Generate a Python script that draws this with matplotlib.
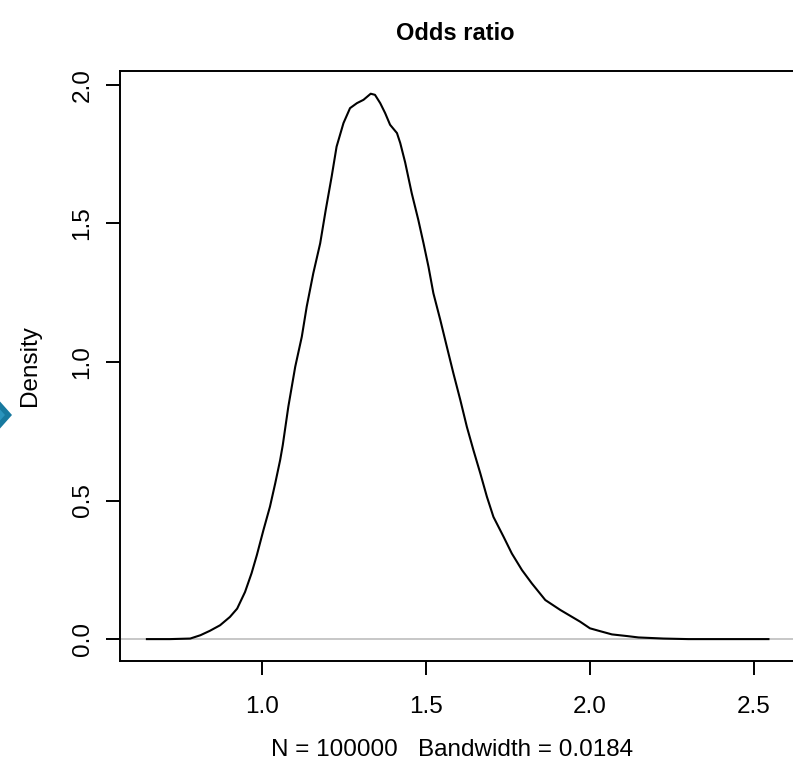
import matplotlib
matplotlib.use("Agg")
import matplotlib.pyplot as plt
from matplotlib.patches import Polygon

odds_ratio = [0.650, 0.720, 0.782, 0.813, 0.842, 0.873, 0.903, 0.925, 0.949, 0.969,
              0.985, 1.005, 1.025, 1.041, 1.056, 1.064, 1.081, 1.102, 1.122, 1.137,
              1.157, 1.178, 1.195, 1.213, 1.228, 1.249, 1.269, 1.290, 1.310, 1.332,
              1.345, 1.361, 1.376, 1.391, 1.412, 1.422, 1.437, 1.457, 1.477, 1.493,
              1.508, 1.523, 1.544, 1.564, 1.584, 1.605, 1.625, 1.645, 1.666, 1.686,
              1.706, 1.737, 1.762, 1.793, 1.823, 1.864, 1.910, 1.970, 2.000, 2.030,
              2.067, 2.113, 2.148, 2.224, 2.300, 2.544]
density = [0.000, 0.000, 0.002, 0.014, 0.030, 0.050, 0.080, 0.110, 0.170, 0.238,
           0.303, 0.393, 0.478, 0.562, 0.646, 0.700, 0.839, 0.983, 1.091, 1.200,
           1.320, 1.428, 1.549, 1.669, 1.777, 1.862, 1.916, 1.934, 1.946, 1.968,
           1.964, 1.934, 1.898, 1.856, 1.826, 1.790, 1.720, 1.609, 1.513, 1.428,
           1.344, 1.248, 1.152, 1.055, 0.959, 0.863, 0.766, 0.682, 0.598, 0.514,
           0.441, 0.369, 0.309, 0.249, 0.201, 0.141, 0.105, 0.063, 0.039, 0.029,
           0.017, 0.011, 0.006, 0.002, 0.000, 0.000]
x_ticks = [1.0, 1.5, 2.0, 2.5]
y_ticks = [0.0, 0.5, 1.0, 1.5, 2.0]

plt.rcParams['font.family'] = ['Liberation Sans', 'DejaVu Sans']

W, H = 793, 773
fig = plt.figure(figsize=(W / 100, H / 100), dpi=100)
ax = fig.add_axes([120 / W, 112 / H, 676 / W, 590 / H])

ax.axhline(0, color='#bebebe', lw=1.2, zorder=1)
ax.plot(odds_ratio, density, color='black', lw=1.5, zorder=2)

ax.set_xlim(0.568, 2.628)
ax.set_ylim(-0.079, 2.05)
ax.set_xticks(x_ticks)
ax.set_xticklabels([f"{v:.1f}" for v in x_ticks])
ax.set_yticks(y_ticks)
ax.set_yticklabels([f"{v:.1f}" for v in y_ticks], rotation=90, va='center')
ax.tick_params(direction='out', length=10, width=1.4, labelsize=17.5)
ax.tick_params(axis='x', pad=15)
ax.tick_params(axis='y', pad=9)
for s in ax.spines.values():
    s.set_linewidth(1.4)

fig.text(455 / W, 1 - 33 / H, "Odds ratio", ha='center', va='center',
         fontsize=17, fontweight='bold')
fig.text(452 / W, 1 - 750 / H, "N = 100000   Bandwidth = 0.0184", ha='center',
         va='center', fontsize=17.5)
fig.text(30 / W, 1 - 366 / H, "Density", ha='center', va='center',
         rotation=90, fontsize=17.5)

# partial diamond marker at the left edge
cy = H - 415
outer = Polygon([(-4, cy + 18), (12, cy), (-4, cy - 18), (-20, cy)],
                closed=True, facecolor='#17799f', edgecolor='none',
                transform=None)
inner = Polygon([(-4, cy + 10), (5, cy), (-4, cy - 10), (-13, cy)],
                closed=True, facecolor='#2a94bd', edgecolor='none',
                transform=None)
fig.add_artist(outer)
fig.add_artist(inner)

fig.savefig("out.png", dpi=100)
